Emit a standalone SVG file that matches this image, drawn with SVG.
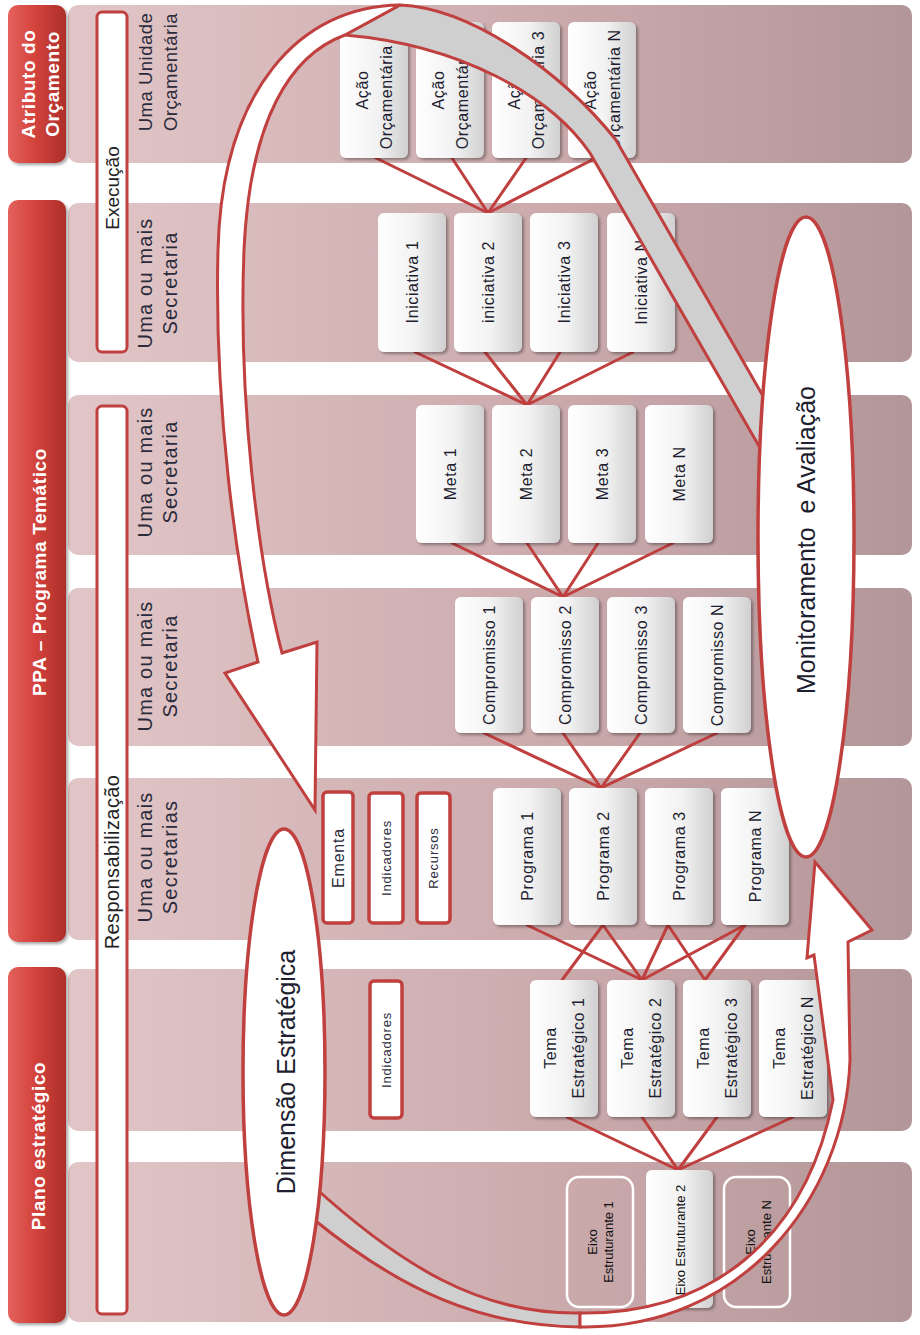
<svg xmlns="http://www.w3.org/2000/svg" width="920" height="1335" viewBox="0 0 920 1335">
<defs>
  <linearGradient id="gBand" x1="0" y1="0" x2="1" y2="0">
    <stop offset="0" stop-color="#e2c6c7"/>
    <stop offset="0.6" stop-color="#caa9ab"/>
    <stop offset="1" stop-color="#b39699"/>
  </linearGradient>
  <linearGradient id="gHead" x1="0" y1="0" x2="1" y2="0">
    <stop offset="0" stop-color="#e4635d"/>
    <stop offset="0.45" stop-color="#d4433d"/>
    <stop offset="1" stop-color="#ad2f2a"/>
  </linearGradient>
  <linearGradient id="gCard" x1="0" y1="0" x2="1" y2="0">
    <stop offset="0" stop-color="#ffffff"/>
    <stop offset="0.55" stop-color="#f2f2f2"/>
    <stop offset="1" stop-color="#d0d0d0"/>
  </linearGradient>
  <filter id="shadow" x="-20%" y="-20%" width="140%" height="140%">
    <feDropShadow dx="2" dy="2" stdDeviation="1.5" flood-color="#000" flood-opacity="0.35"/>
  </filter>
</defs>
<style>
  .band{fill:url(#gBand)}
  .head{fill:url(#gHead);filter:url(#shadow)}
  .htxt{font-family:"Liberation Sans",Arial,sans-serif;font-weight:bold;font-size:19px;fill:#ffffff;letter-spacing:0.6px;text-anchor:middle;dominant-baseline:central}
  .rbox{fill:#ffffff;stroke:#c0403f;stroke-width:3}
  .rtxt{font-family:"Liberation Sans",Arial,sans-serif;font-size:19px;fill:#222;text-anchor:middle;dominant-baseline:central}
  .lbl{font-family:"Liberation Sans",Arial,sans-serif;font-size:20px;fill:#2a2a3a;letter-spacing:1.2px;text-anchor:middle;dominant-baseline:central}
  .card{fill:url(#gCard);filter:url(#shadow)}
  .ctxt{font-family:"Liberation Sans",Arial,sans-serif;font-size:16px;fill:#1e1e30;letter-spacing:0.6px;text-anchor:middle;dominant-baseline:central}
  .sbox{fill:#ffffff;stroke:#c0403f;stroke-width:3.5}
  .stxt{font-family:"Liberation Sans",Arial,sans-serif;font-size:13px;fill:#2a2a3a;letter-spacing:0.8px;text-anchor:middle;dominant-baseline:central}
  .obox{fill:none;stroke:#ffffff;stroke-width:2.5}
  .etxt{font-family:"Liberation Sans",Arial,sans-serif;font-size:13px;fill:#111;text-anchor:middle;dominant-baseline:central}
  .conn line{stroke:#bf3f3e;stroke-width:3;stroke-linecap:round}
  .ribW{fill:#ffffff;stroke:#c0403f;stroke-width:3;stroke-linejoin:miter}
  .ribG{fill:#cfcfcf;stroke:#c0403f;stroke-width:3}
  .ell{fill:#ffffff;stroke:#c0403f;stroke-width:3.5}
  .eltxt{font-family:"Liberation Sans",Arial,sans-serif;font-size:25px;fill:#1e1e30;text-anchor:middle;dominant-baseline:central;white-space:pre}
</style>

<!-- horizontal bands (one per level) -->
<g id="bands">
  <rect class="band" x="68" y="5" width="844" height="158" rx="10"/>
  <rect class="band" x="68" y="203" width="844" height="159" rx="10"/>
  <rect class="band" x="68" y="395" width="844" height="160" rx="10"/>
  <rect class="band" x="68" y="588" width="844" height="158" rx="10"/>
  <rect class="band" x="68" y="778" width="844" height="162" rx="10"/>
  <rect class="band" x="68" y="969" width="844" height="162" rx="10"/>
  <rect class="band" x="68" y="1162" width="844" height="160" rx="10"/>
</g>

<!-- red header column -->
<g id="head-orcamento">
  <rect class="head" x="8" y="5" width="58" height="158" rx="10"/>
  <text class="htxt" transform="translate(40,84) rotate(-90)"><tspan x="0" y="-12">Atributo do</tspan><tspan x="0" y="12">Orçamento</tspan></text>
</g>
<g id="head-ppa">
  <rect class="head" x="8" y="200" width="58" height="742" rx="10"/>
  <text class="htxt" transform="translate(39,572) rotate(-90)">PPA – Programa Temático</text>
</g>
<g id="head-plano">
  <rect class="head" x="8" y="967" width="58" height="356" rx="10"/>
  <text class="htxt" transform="translate(38,1146) rotate(-90)">Plano estratégico</text>
</g>

<!-- responsibility bars -->
<g id="execucao">
  <rect class="rbox" x="97" y="12" width="30" height="340" rx="5"/>
  <text class="rtxt" transform="translate(112,188) rotate(-90)">Execução</text>
</g>
<g id="responsabilizacao">
  <rect class="rbox" x="97" y="406" width="30" height="908" rx="5"/>
  <text class="rtxt" style="font-size:20px;letter-spacing:0.4px" transform="translate(112,862) rotate(-90)">Responsabilização</text>
</g>

<!-- band labels -->
<g id="labels">
  <text class="lbl" style="font-size:18.5px;letter-spacing:0.5px" transform="translate(157,72) rotate(-90)"><tspan x="0" y="-12.5">Uma Unidade</tspan><tspan x="0" y="12.5">Orçamentária</tspan></text>
  <text class="lbl" transform="translate(157,283) rotate(-90)"><tspan x="0" y="-12.5">Uma ou mais</tspan><tspan x="0" y="12.5">Secretaria</tspan></text>
  <text class="lbl" transform="translate(157,472) rotate(-90)"><tspan x="0" y="-12.5">Uma ou mais</tspan><tspan x="0" y="12.5">Secretaria</tspan></text>
  <text class="lbl" transform="translate(157,666) rotate(-90)"><tspan x="0" y="-12.5">Uma ou mais</tspan><tspan x="0" y="12.5">Secretaria</tspan></text>
  <text class="lbl" transform="translate(157,857) rotate(-90)"><tspan x="0" y="-12.5">Uma ou mais</tspan><tspan x="0" y="12.5">Secretarias</tspan></text>
</g>

<!-- connectors -->
<g id="connectors" class="conn">
  <line x1="376" y1="158" x2="488" y2="213"/>
  <line x1="452" y1="158" x2="488" y2="213"/>
  <line x1="526" y1="158" x2="488" y2="213"/>
  <line x1="592" y1="160" x2="488" y2="213"/>

  <line x1="415" y1="352" x2="527" y2="405"/>
  <line x1="485" y1="352" x2="527" y2="405"/>
  <line x1="560" y1="352" x2="527" y2="405"/>
  <line x1="633" y1="352" x2="527" y2="405"/>

  <line x1="452" y1="543" x2="563" y2="597"/>
  <line x1="527" y1="543" x2="563" y2="597"/>
  <line x1="598" y1="543" x2="563" y2="597"/>
  <line x1="673" y1="543" x2="563" y2="597"/>

  <line x1="484" y1="733" x2="601" y2="788"/>
  <line x1="563" y1="733" x2="601" y2="788"/>
  <line x1="640" y1="733" x2="601" y2="788"/>
  <line x1="717" y1="733" x2="601" y2="788"/>

  <line x1="527" y1="925" x2="642" y2="980"/>
  <line x1="603" y1="925" x2="562" y2="980"/>
  <line x1="603" y1="925" x2="642" y2="980"/>
  <line x1="668" y1="925" x2="642" y2="980"/>
  <line x1="668" y1="925" x2="705" y2="980"/>
  <line x1="745" y1="925" x2="642" y2="980"/>
  <line x1="745" y1="925" x2="705" y2="980"/>

  <line x1="567" y1="1117" x2="678" y2="1170"/>
  <line x1="642" y1="1117" x2="678" y2="1170"/>
  <line x1="717" y1="1117" x2="678" y2="1170"/>
  <line x1="793" y1="1117" x2="678" y2="1170"/>
</g>

<!-- Ação Orçamentária -->
<g id="acao-1"><rect class="card" x="340" y="22" width="68" height="136" rx="6"/><text class="ctxt" transform="translate(374,90) rotate(-90)"><tspan x="0" y="-12">Ação</tspan><tspan x="0" y="12">Orçamentária 1</tspan></text></g>
<g id="acao-2"><rect class="card" x="416" y="22" width="68" height="136" rx="6"/><text class="ctxt" transform="translate(450,90) rotate(-90)"><tspan x="0" y="-12">Ação</tspan><tspan x="0" y="12">Orçamentária 2</tspan></text></g>
<g id="acao-3"><rect class="card" x="492" y="22" width="68" height="136" rx="6"/><text class="ctxt" transform="translate(526,90) rotate(-90)"><tspan x="0" y="-12">Ação</tspan><tspan x="0" y="12">Orçamentária 3</tspan></text></g>
<g id="acao-n"><rect class="card" x="568" y="22" width="68" height="136" rx="6"/><text class="ctxt" transform="translate(602,90) rotate(-90)"><tspan x="0" y="-12">Ação</tspan><tspan x="0" y="12">Orçamentária N</tspan></text></g>

<!-- Iniciativas -->
<g id="iniciativa-1"><rect class="card" x="378" y="213" width="68" height="139" rx="6"/><text class="ctxt" transform="translate(412,282) rotate(-90)">Iniciativa 1</text></g>
<g id="iniciativa-2"><rect class="card" x="454" y="213" width="68" height="139" rx="6"/><text class="ctxt" transform="translate(488,282) rotate(-90)">iniciativa 2</text></g>
<g id="iniciativa-3"><rect class="card" x="530" y="213" width="68" height="139" rx="6"/><text class="ctxt" transform="translate(564,282) rotate(-90)">Iniciativa 3</text></g>
<g id="iniciativa-n"><rect class="card" x="607" y="213" width="68" height="139" rx="6"/><text class="ctxt" transform="translate(641,282) rotate(-90)">Iniciativa N</text></g>

<!-- Metas -->
<g id="meta-1"><rect class="card" x="416" y="405" width="68" height="138" rx="6"/><text class="ctxt" transform="translate(450,474) rotate(-90)">Meta 1</text></g>
<g id="meta-2"><rect class="card" x="492" y="405" width="68" height="138" rx="6"/><text class="ctxt" transform="translate(526,474) rotate(-90)">Meta 2</text></g>
<g id="meta-3"><rect class="card" x="568" y="405" width="68" height="138" rx="6"/><text class="ctxt" transform="translate(602,474) rotate(-90)">Meta 3</text></g>
<g id="meta-n"><rect class="card" x="645" y="405" width="68" height="138" rx="6"/><text class="ctxt" transform="translate(679,474) rotate(-90)">Meta N</text></g>

<!-- Compromissos -->
<g id="compromisso-1"><rect class="card" x="455" y="597" width="68" height="136" rx="6"/><text class="ctxt" transform="translate(489,665) rotate(-90)">Compromisso 1</text></g>
<g id="compromisso-2"><rect class="card" x="531" y="597" width="68" height="136" rx="6"/><text class="ctxt" transform="translate(565,665) rotate(-90)">Compromisso 2</text></g>
<g id="compromisso-3"><rect class="card" x="607" y="597" width="68" height="136" rx="6"/><text class="ctxt" transform="translate(641,665) rotate(-90)">Compromisso 3</text></g>
<g id="compromisso-n"><rect class="card" x="683" y="597" width="68" height="136" rx="6"/><text class="ctxt" transform="translate(717,665) rotate(-90)">Compromisso N</text></g>

<!-- Programas -->
<g id="programa-1"><rect class="card" x="493" y="788" width="68" height="137" rx="6"/><text class="ctxt" transform="translate(527,856) rotate(-90)">Programa 1</text></g>
<g id="programa-2"><rect class="card" x="569" y="788" width="68" height="137" rx="6"/><text class="ctxt" transform="translate(603,856) rotate(-90)">Programa 2</text></g>
<g id="programa-3"><rect class="card" x="645" y="788" width="68" height="137" rx="6"/><text class="ctxt" transform="translate(679,856) rotate(-90)">Programa 3</text></g>
<g id="programa-n"><rect class="card" x="721" y="788" width="68" height="137" rx="6"/><text class="ctxt" transform="translate(755,856) rotate(-90)">Programa N</text></g>

<!-- program attributes -->
<g id="ementa"><rect class="sbox" x="323" y="792" width="30" height="131" rx="4"/><text class="stxt" style="font-size:16px" transform="translate(338,858) rotate(-90)">Ementa</text></g>
<g id="indicadores-programa"><rect class="sbox" x="369" y="793" width="34" height="130" rx="4"/><text class="stxt" transform="translate(386,858) rotate(-90)">Indicadores</text></g>
<g id="recursos"><rect class="sbox" x="417" y="793" width="33" height="130" rx="4"/><text class="stxt" transform="translate(433,858) rotate(-90)">Recursos</text></g>

<!-- Temas estratégicos -->
<g id="indicadores-tema"><rect class="sbox" x="370" y="981" width="32" height="137" rx="4"/><text class="stxt" transform="translate(386,1050) rotate(-90)">Indicadores</text></g>
<g id="tema-1"><rect class="card" x="530" y="980" width="68" height="137" rx="6"/><text class="ctxt" transform="translate(564,1048) rotate(-90)"><tspan x="0" y="-14">Tema</tspan><tspan x="0" y="14">Estratégico 1</tspan></text></g>
<g id="tema-2"><rect class="card" x="607" y="980" width="68" height="137" rx="6"/><text class="ctxt" transform="translate(641,1048) rotate(-90)"><tspan x="0" y="-14">Tema</tspan><tspan x="0" y="14">Estratégico 2</tspan></text></g>
<g id="tema-3"><rect class="card" x="683" y="980" width="68" height="137" rx="6"/><text class="ctxt" transform="translate(717,1048) rotate(-90)"><tspan x="0" y="-14">Tema</tspan><tspan x="0" y="14">Estratégico 3</tspan></text></g>
<g id="tema-n"><rect class="card" x="759" y="980" width="68" height="137" rx="6"/><text class="ctxt" transform="translate(793,1048) rotate(-90)"><tspan x="0" y="-14">Tema</tspan><tspan x="0" y="14">Estratégico N</tspan></text></g>

<!-- Eixos estruturantes -->
<g id="eixo-1"><rect class="obox" x="567" y="1177" width="66" height="130" rx="12"/><text class="etxt" transform="translate(600,1242) rotate(-90)"><tspan x="0" y="-8">Eixo</tspan><tspan x="0" y="8">Estruturante 1</tspan></text></g>
<g id="eixo-2"><rect class="card" x="646" y="1170" width="67" height="138" rx="6"/><text class="etxt" transform="translate(680,1240) rotate(-90)">Eixo Estruturante 2</text></g>
<g id="eixo-n"><rect class="obox" x="724" y="1177" width="66" height="130" rx="12"/><text class="etxt" transform="translate(758,1242) rotate(-90)"><tspan x="0" y="-8">Eixo</tspan><tspan x="0" y="8">Estruturante N</tspan></text></g>

<!-- feedback arrow: monitoring back to the programme -->
<g id="arrow-feedback">
  <path class="ribG" d="M400,5 C470,8 560,70 616,140 L771,410 L767,460 L590,153 C550,95 460,45 345,35 Z"/>
  <path class="ribW" d="M400,5 C300,6 222,90 218,250 C214,400 235,560 258,662 L225,673 L315,810 L317,642 L282,653 C258,560 238,400 244,250 C250,120 290,55 345,35 Z"/>
</g>

<!-- strategic arrow: strategy up to monitoring -->
<g id="arrow-strategy">
  <path class="ribG" d="M312,1185 C400,1265 480,1315 580,1313 L580,1327 C480,1326 400,1290 312,1218 Z"/>
  <path class="ribW" d="M580,1313 C710,1315 805,1240 833,1100 L814,955 L807,958 L815,862 L872,930 L848,942 L850,1060 C845,1200 740,1330 580,1327 Z"/>
</g>

<!-- ellipses -->
<g id="monitoramento">
  <ellipse class="ell" cx="806" cy="537" rx="48" ry="320"/>
  <text class="eltxt" xml:space="preserve" transform="translate(806,540) rotate(-90)">Monitoramento  e Avaliação</text>
</g>
<g id="dimensao">
  <ellipse class="ell" cx="284" cy="1072" rx="41" ry="243"/>
  <text class="eltxt" transform="translate(286,1072) rotate(-90)">Dimensão Estratégica</text>
</g>
</svg>
